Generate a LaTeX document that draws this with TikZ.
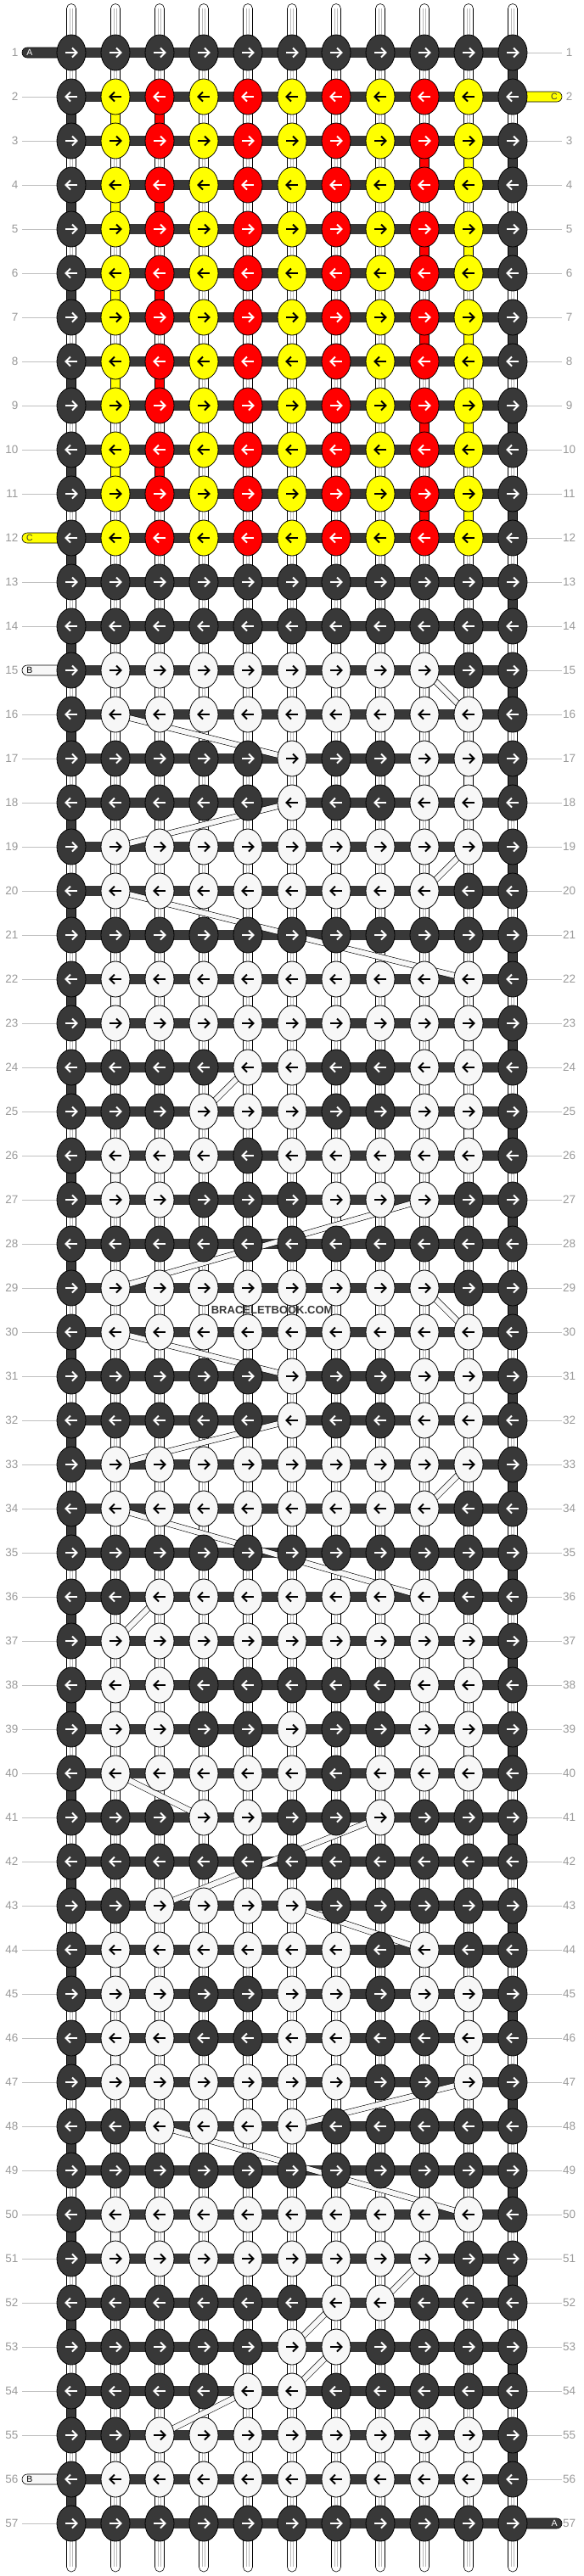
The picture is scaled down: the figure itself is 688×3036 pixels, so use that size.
\documentclass[tikz,border=0pt]{standalone}
\usepackage{fontspec}
\setmainfont{Liberation Sans}
\usetikzlibrary{shapes.geometric}
\definecolor{cD}{HTML}{383838}
\definecolor{cY}{HTML}{FFFF00}
\definecolor{cR}{HTML}{FF0000}
\definecolor{cW}{HTML}{F7F7F7}
\definecolor{lab}{HTML}{9A9A9A}
\definecolor{labln}{HTML}{C0C0C0}
\pgfdeclarelayer{tubes}\pgfdeclarelayer{threads}\pgfdeclarelayer{bands}\pgfdeclarelayer{labels}
\pgfsetlayers{tubes,threads,bands,main,labels}
\tikzset{
 knotbase/.style={ellipse, draw=black, line width=0.8pt, minimum width=34pt, minimum height=42pt, inner sep=0pt},
 knotD/.style={knotbase, fill=cD}, knotY/.style={knotbase, fill=cY},
 knotR/.style={knotbase, fill=cR}, knotW/.style={knotbase, fill=cW},
 arrD/.style={white}, arrR/.style={white}, arrY/.style={black}, arrW/.style={black},
 pics/knotarrow/.style={code={
   \draw[line width=1.9pt] (-7,0) -- (6,0);
   \draw[line width=1.9pt] (1,-5.5) -- (6.6,0) -- (1,5.5);}},
 conn/.style={draw=black, line width=0.6pt},
 band/.style={draw=black, double=cW, double distance=6pt, line width=0.6pt},
 rowlab/.style={text=lab, font=\fontsize{13.5}{13.5}\selectfont, inner sep=0pt},
 labline/.style={draw=labln, line width=0.9pt},
 tail/.style={draw=black, line width=0.6pt, rounded corners=6pt},
 tailtext/.style={font=\fontsize{10.5}{10.5}\selectfont, inner sep=0pt},
}
\newcommand\knotrow[2]{%
 \foreach \kk [count=\cc from 0] in {#2}{%
   \pgfmathsetmacro\xx{84+52*\cc}%
   \pgfmathsetmacro\yy{62+52*(#1-1)}%
   \node[knot\kk] (k-#1-\cc) at (\xx,\yy) {};
   \ifodd#1\relax \pic[arr\kk] (a-#1-\cc) at (\xx,\yy) {knotarrow};%
   \else \pic[arr\kk, xscale=-1] (a-#1-\cc) at (\xx,\yy) {knotarrow};\fi
 }}
\newcommand\vconn[3]{% row, col, colour
 \pgfmathtruncatemacro\rn{#1+1}%
 \draw[conn, fill=#3] ([xshift=-5.5pt]k-#1-#2.center) rectangle ([xshift=5.5pt]k-\rn-#2.center);}
\begin{document}
\begin{tikzpicture}[x=1pt,y=-1pt]
\useasboundingbox (0,0) rectangle (688,3036);
% ---------------- knots
\knotrow{1}{D,D,D,D,D,D,D,D,D,D,D}
\foreach \rr in {2,...,12}{\knotrow{\rr}{D,Y,R,Y,R,Y,R,Y,R,Y,D}}
\knotrow{13}{D,D,D,D,D,D,D,D,D,D,D}
\knotrow{14}{D,D,D,D,D,D,D,D,D,D,D}
\knotrow{15}{D,W,W,W,W,W,W,W,W,D,D}
\knotrow{16}{D,W,W,W,W,W,W,W,W,W,D}
\knotrow{17}{D,D,D,D,D,W,D,D,W,W,D}
\knotrow{18}{D,D,D,D,D,W,D,D,W,W,D}
\knotrow{19}{D,W,W,W,W,W,W,W,W,W,D}
\knotrow{20}{D,W,W,W,W,W,W,W,W,D,D}
\knotrow{21}{D,D,D,D,D,D,D,D,D,D,D}
\knotrow{22}{D,W,W,W,W,W,W,W,W,W,D}
\knotrow{23}{D,W,W,W,W,W,W,W,W,W,D}
\knotrow{24}{D,D,D,D,W,W,D,D,W,W,D}
\knotrow{25}{D,D,D,W,W,W,D,D,W,W,D}
\knotrow{26}{D,W,W,W,D,W,W,W,W,W,D}
\knotrow{27}{D,W,W,D,D,D,W,W,W,D,D}
\knotrow{28}{D,D,D,D,D,D,D,D,D,D,D}
\knotrow{29}{D,W,W,W,W,W,W,W,W,D,D}
\knotrow{30}{D,W,W,W,W,W,W,W,W,W,D}
\knotrow{31}{D,D,D,D,D,W,D,D,W,W,D}
\knotrow{32}{D,D,D,D,D,W,D,D,W,W,D}
\knotrow{33}{D,W,W,W,W,W,W,W,W,W,D}
\knotrow{34}{D,W,W,W,W,W,W,W,W,D,D}
\knotrow{35}{D,D,D,D,D,D,D,D,D,D,D}
\knotrow{36}{D,D,W,W,W,W,W,W,W,D,D}
\knotrow{37}{D,W,W,W,W,W,W,W,W,W,D}
\knotrow{38}{D,W,W,D,D,D,D,D,W,W,D}
\knotrow{39}{D,W,W,D,D,W,D,D,W,W,D}
\knotrow{40}{D,W,W,W,W,W,D,W,W,W,D}
\knotrow{41}{D,D,D,W,W,D,D,W,D,D,D}
\knotrow{42}{D,D,D,D,D,D,D,D,D,D,D}
\knotrow{43}{D,D,W,W,W,W,D,D,D,D,D}
\knotrow{44}{D,W,W,W,W,W,W,D,W,D,D}
\knotrow{45}{D,W,W,D,D,W,W,D,W,W,D}
\knotrow{46}{D,W,W,D,D,W,W,D,D,W,D}
\knotrow{47}{D,W,W,W,W,W,W,D,D,W,D}
\knotrow{48}{D,D,W,W,W,W,D,D,D,D,D}
\knotrow{49}{D,D,D,D,D,D,D,D,D,D,D}
\knotrow{50}{D,W,W,W,W,W,W,W,W,W,D}
\knotrow{51}{D,W,W,W,W,W,W,W,W,D,D}
\knotrow{52}{D,D,D,D,D,D,W,W,D,D,D}
\knotrow{53}{D,D,D,D,D,W,W,D,D,D,D}
\knotrow{54}{D,D,D,D,W,W,D,D,D,D,D}
\knotrow{55}{D,D,W,W,W,W,W,W,W,W,D}
\knotrow{56}{D,W,W,W,W,W,W,W,W,W,D}
\knotrow{57}{D,D,D,D,D,D,D,D,D,D,D}
% ---------------- vertical strings
\begin{pgfonlayer}{tubes}
 \fill[white] (0,0) rectangle (688,3036);
 \foreach \cc in {0,...,10}{
   \pgfmathsetmacro\xx{84+52*\cc}
   \coordinate (top-\cc) at (\xx,4.5);
   \coordinate (bot-\cc) at (\xx,3031);
   \coordinate (stop-\cc) at (\xx,10);
   \coordinate (sbot-\cc) at (\xx,3025);
   \draw[fill=white, line width=0.6pt, rounded corners=5.5pt] ([xshift=-5.5pt]top-\cc) rectangle ([xshift=5.5pt]bot-\cc);
   \draw[gray!55, line width=0.5pt] ([xshift=-1.3pt]stop-\cc) -- ([xshift=-1.3pt]sbot-\cc);
   \draw[gray!55, line width=0.5pt] ([xshift=1.3pt]stop-\cc) -- ([xshift=1.3pt]sbot-\cc);
 }
\end{pgfonlayer}
% ---------------- threads
\begin{pgfonlayer}{threads}
 \foreach \rr in {1,...,57}{
   \fill[cD] ([yshift=6pt]k-\rr-0.center) rectangle ([yshift=-6pt]k-\rr-10.center);
 }
 \foreach \rr in {2,4,...,56}{\vconn{\rr}{0}{cD}}
 \foreach \rr in {1,3,...,55}{\vconn{\rr}{10}{cD}}
 \foreach \rr in {2,4,...,10}{\vconn{\rr}{1}{cY}\vconn{\rr}{2}{cR}}
 \foreach \rr in {3,5,...,11}{\vconn{\rr}{9}{cY}\vconn{\rr}{8}{cR}}
 \foreach \rr/\cc in {17/9,22/1,23/9,25/9,26/1,31/9,37/9,38/1,39/9,44/1,45/9,46/1,50/1,55/9}{\vconn{\rr}{\cc}{cW}}
 % row label lines
 \foreach \rr in {1,...,57}{
   \pgfmathsetmacro\yy{62+52*(\rr-1)}
   \coordinate (ll-\rr) at (26,\yy);
   \coordinate (rl-\rr) at (662,\yy);
   \ifnum\rr=1 \else\ifnum\rr=12 \else\ifnum\rr=15 \else\ifnum\rr=56 \else
     \draw[labline] (ll-\rr) -- (k-\rr-0.center);
   \fi\fi\fi\fi
   \ifnum\rr=2 \else\ifnum\rr=57 \else
     \draw[labline] (k-\rr-10.center) -- (rl-\rr);
   \fi\fi
 }
 % tails
 \draw[tail, fill=cD] ([yshift=6pt]ll-1) rectangle ([yshift=-6pt]k-1-0.center);
 \draw[tail, fill=cY] ([yshift=6pt]ll-12) rectangle ([yshift=-6pt]k-12-0.center);
 \draw[tail, fill=cW] ([yshift=6pt]ll-15) rectangle ([yshift=-6pt]k-15-0.center);
 \draw[tail, fill=cW] ([yshift=6pt]ll-56) rectangle ([yshift=-6pt]k-56-0.center);
 \draw[tail, fill=cY] ([yshift=6pt]k-2-10.center) rectangle ([yshift=-6pt]rl-2);
 \draw[tail, fill=cD] ([yshift=6pt]k-57-10.center) rectangle ([yshift=-6pt]rl-57);
\end{pgfonlayer}
% ---------------- diagonal white threads
\begin{pgfonlayer}{bands}
 \foreach \ra/\ca/\rb/\cb in {15/8/16/9, 16/1/17/5, 18/5/19/1, 19/9/20/8, 20/1/22/9,
   24/4/25/3, 27/8/29/1, 29/8/30/9, 30/1/31/5, 32/5/33/1, 33/9/34/8, 34/1/36/8,
   36/2/37/1, 40/1/41/3, 41/7/43/2, 43/5/44/8, 47/9/48/5, 48/2/50/9, 51/8/52/7,
   52/6/53/5, 53/6/54/5, 54/4/55/2}{
   \draw[band] (k-\ra-\ca.center) -- (k-\rb-\cb.center);
 }
\end{pgfonlayer}
% ---------------- labels
\begin{pgfonlayer}{labels}
 \foreach \rr in {1,...,57}{
   \pgfmathsetmacro\yy{62+52*(\rr-1)}
   \node[rowlab, anchor=east] (ln-\rr) at (21.5,\yy) {\rr};
   \node[rowlab] (rn-\rr) at (670.5,\yy) {\rr};
 }
 \node[tailtext, text=white] (t-a1) at (35,62) {A};
 \node[tailtext, text=cD] (t-c12) at (35,634) {C};
 \node[tailtext, text=black] (t-b15) at (35,790) {B};
 \node[tailtext, text=black] (t-b56) at (35,2922) {B};
 \node[tailtext, text=cD] (t-c2) at (653,114) {C};
 \node[tailtext, text=white] (t-a57) at (653,2974) {A};
 \node[font=\bfseries\fontsize{13}{13}\selectfont, text=cD, inner sep=0pt] (wm) at (320.7,1543.7) {BRACELETBOOK.COM};
\end{pgfonlayer}
\end{tikzpicture}
\end{document}
